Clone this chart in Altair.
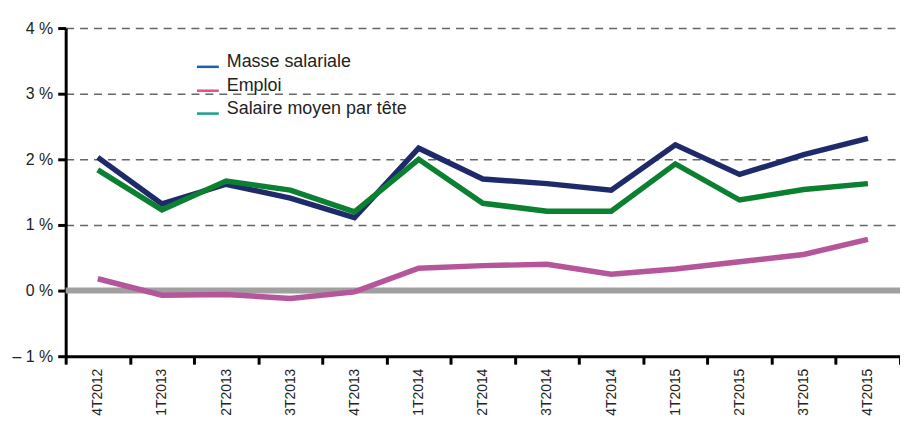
import altair as alt
import pandas as pd

quarters = ["4T2012", "1T2013", "2T2013", "3T2013", "4T2013", "1T2014", "2T2014",
            "3T2014", "4T2014", "1T2015", "2T2015", "3T2015", "4T2015"]
masse = [2.03, 1.32, 1.62, 1.41, 1.11, 2.17, 1.70, 1.63, 1.53, 2.22, 1.77, 2.07, 2.32]
emploi = [0.18, -0.07, -0.06, -0.12, -0.02, 0.34, 0.38, 0.40, 0.25, 0.33, 0.44, 0.55, 0.78]
salaire = [1.84, 1.23, 1.67, 1.53, 1.20, 2.00, 1.33, 1.21, 1.21, 1.93, 1.38, 1.54, 1.63]

series_names = ["Masse salariale", "Emploi", "Salaire moyen par tête"]
line_colors = ["#1f2a6b", "#b5569a", "#0a8030"]
legend_colors = ["#1f5fa8", "#e84c8b", "#1aa08a"]
y_ticks = [-1, 0, 1, 2, 3, 4]

W, H = 839, 330

x_axis = alt.Axis(labelAngle=-90, labelFontSize=14, labelColor="#222",
                  labelPadding=4, domainColor="#000", domainWidth=3,
                  tickColor="#000", tickWidth=3, tickSize=8,
                  tickBand="extent", grid=False)
y_axis = alt.Axis(values=y_ticks, labelFontSize=16, labelColor="#222",
                  labelPadding=5, domainColor="#000", domainWidth=3,
                  tickColor="#000", tickWidth=3, tickSize=8,
                  grid=True, gridDash=[8, 6], gridColor="#666", gridWidth=1.5,
                  labelExpr="datum.value < 0 ? '– ' + abs(datum.value) + ' %' : datum.value + ' %'")
x_scale = alt.Scale(paddingInner=0, paddingOuter=0)
y_scale = alt.Scale(domain=[-1, 4], nice=False, zero=False)

x_enc = alt.X("q:N", sort=quarters, title=None, scale=x_scale, axis=x_axis)
y_enc = alt.Y("v:Q", scale=y_scale, title=None, axis=y_axis)


def series_df(vals):
    return pd.DataFrame({"q": quarters, "v": vals})


layers = []
layers.append(alt.Chart(pd.DataFrame({"v": [0]})).mark_rule(color="#a0a0a0", strokeWidth=6).encode(
    y=y_enc))
layers.append(alt.Chart(series_df(emploi)).mark_line(strokeWidth=5.5, color=line_colors[1]).encode(
    x=x_enc, y=y_enc))
layers.append(alt.Chart(series_df(masse)).mark_line(strokeWidth=5.5, color=line_colors[0]).encode(
    x=x_enc, y=y_enc))
layers.append(alt.Chart(series_df(salaire)).mark_line(strokeWidth=5.5, color=line_colors[2]).encode(
    x=x_enc, y=y_enc))

leg_y = [39, 63, 86]
for i, name in enumerate(series_names):
    d = pd.DataFrame({"name": [name]})
    layers.append(alt.Chart(d).mark_rule(color=legend_colors[i], strokeWidth=2.5).encode(
        x=alt.value(132), x2=alt.value(154), y=alt.value(leg_y[i])))
    layers.append(alt.Chart(d).mark_text(align="left", baseline="middle", fontSize=18,
                                         color="#222").encode(
        x=alt.value(162), y=alt.value(leg_y[i] - 5), text="name:N"))

chart = alt.layer(*layers).properties(
    width=W, height=H,
    autosize=alt.AutoSizeParams(type="none"),
    padding={"left": 58, "top": 19, "right": 0, "bottom": 67},
).configure(font="Liberation Sans").configure_view(stroke=None)

chart.save("out.html", embed_options={"renderer": "svg", "actions": False})
